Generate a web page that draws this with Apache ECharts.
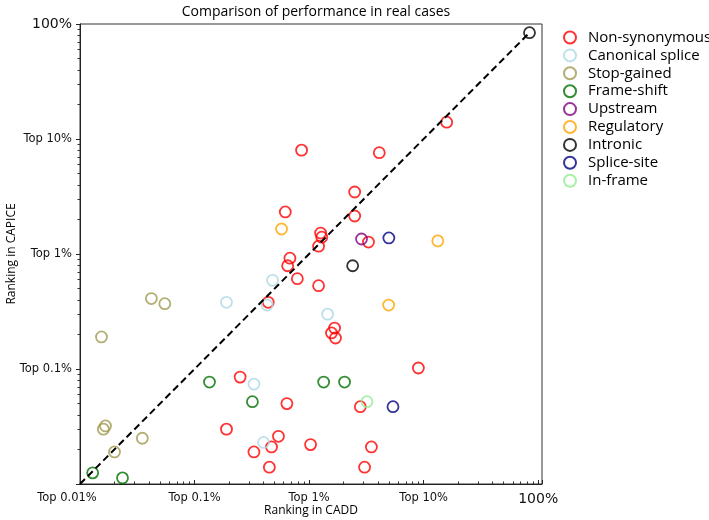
<!DOCTYPE html>
<html><head><meta charset="utf-8">
<script src="https://cdn.jsdelivr.net/npm/echarts@6/dist/echarts.min.js"></script>
<style>html,body{margin:0;padding:0;background:#fff}#c{width:709px;height:520px}</style>
</head><body><div id="c"></div>
<script>
// ---- data (percent ranks: [CADD, CAPICE]) ----
const seriesNames = ['Non-synonymous','Canonical splice','Stop-gained','Frame-shift','Upstream','Regulatory','Intronic','Splice-site','In-frame'];
const seriesColors = ['#ff0000','#add8e6','#a09a50','#007000','#800080','#ffa500','#000000','#000080','#90ee90'];
const nonSynonymous = [[15.9,14.0],[4.1,7.6],[0.86,8.0],[2.5,3.46],[2.5,2.14],[0.62,2.32],[1.26,1.52],[1.29,1.40],[1.21,1.17],[0.68,0.92],[0.65,0.79],[0.79,0.61],[1.21,0.53],[0.44,0.38],[3.3,1.27],[1.67,0.227],[1.57,0.206],[1.70,0.186],[0.25,0.085],[0.64,0.050],[2.8,0.047],[9.0,0.102],[0.19,0.030],[0.54,0.026],[0.47,0.021],[0.33,0.019],[0.45,0.014],[1.03,0.022],[3.5,0.021],[3.05,0.014]];
const canonicalSplice = [[0.19,0.38],[0.48,0.59],[0.43,0.36],[1.45,0.30],[0.33,0.074],[0.40,0.023]];
const stopGained = [[0.042,0.41],[0.055,0.37],[0.0154,0.19],[0.0167,0.032],[0.0160,0.030],[0.035,0.025],[0.020,0.019]];
const frameShift = [[0.135,0.077],[0.32,0.052],[1.34,0.077],[2.04,0.077],[0.0129,0.0125],[0.0235,0.0113]];
const upstream = [[2.87,1.35]];
const regulatory = [[0.575,1.65],[13.3,1.30],[4.95,0.36]];
const intronic = [[84,84],[2.4,0.79]];
const spliceSite = [[4.97,1.38],[5.4,0.047]];
const inFrame = [[3.2,0.052]];
const seriesData = [nonSynonymous, canonicalSplice, stopGained, frameShift, upstream, regulatory, intronic, spliceSite, inFrame];
const diagonal = [[0.01,0.01],[84,84]];
const majorTicks = [0.01,0.1,1,10,100];
const xTickLabels = ['Top 0.01%','Top 0.1%','Top 1%','Top 10%','100%'];
const yTickLabels = ['','Top 0.1%','Top 1%','Top 10%','100%'];

function minorValues(){const out=[];for(let d=-2;d<2;d++)for(let k=2;k<=9;k++)out.push(Math.log10(k*Math.pow(10,d)));return out;}
const minorsLog = minorValues();
function labelFor(v, labels){
  for(let i=0;i<majorTicks.length;i++){ if(Math.abs(Math.log10(v)-Math.log10(majorTicks[i]))<1e-6){
    const t=labels[i]; if(!t) return '';
    if(t==='100%') return '{big|100%}';
    if(t==='Top 0.01%') return '{first|Top 0.01%}';
    return t; } }
  return '';
}
const tickFont = {fontFamily:'DejaVu Sans', fontSize:11.5, color:'#111'};
const rich = {big:{fontFamily:'DejaVu Sans', fontSize:14, color:'#111'}, first:{fontFamily:'DejaVu Sans', fontSize:11.5, color:'#111', padding:[0,26,0,0]}};
const XMAX = 108, XMIN = 0.01, YMIN = 0.01, YMAX = 100;

const series = seriesNames.map((n,i)=>({
  name:n, type:'scatter', xAxisIndex:0, yAxisIndex:0, data:seriesData[i], symbol:'circle', symbolSize:11,
  itemStyle:{color:'rgba(0,0,0,0)', borderColor:seriesColors[i], borderWidth:1.8}, silent:true
}));
series.push({name:'diag', type:'line', data:diagonal, symbol:'none', xAxisIndex:0, yAxisIndex:0,
  lineStyle:{color:'#000', width:2, type:[7,4]}, silent:true, z:3});

const chart = echarts.init(document.getElementById('c'), null, {renderer:'canvas'});
chart.setOption({
  animation:false,
  title:{text:'Comparison of performance in real cases', left:311, textAlign:'center', top:0,
    textStyle:{fontFamily:'Open Sans', fontSize:14, fontWeight:'normal', color:'#000'}},
  grid:{left:80, right:167, top:24, bottom:36, show:true, borderColor:'#333', borderWidth:1, containLabel:false, outerBoundsMode:'none'},
  legend:{orient:'vertical', left:558, top:25, itemWidth:12, itemHeight:12, itemGap:2.9, icon:'circle',
    data:seriesNames.map((n,i)=>({name:n, itemStyle:{color:'rgba(0,0,0,0)', borderColor:seriesColors[i], borderWidth:2}})),
    textStyle:{fontFamily:'Open Sans', fontSize:15, lineHeight:15, color:'#000', padding:[0,0,0,7]}},
  xAxis:[
    {type:'log', logBase:10, min:XMIN, max:XMAX, position:'bottom',
     name:'Ranking in CADD', nameLocation:'middle', nameGap:21, nameMoveOverlap:false, nameTextStyle:{fontFamily:'Open Sans', fontSize:12, color:'#000'},
     axisLine:{show:true, onZero:false, lineStyle:{color:'#222', width:1}},
     axisTick:{show:true, inside:true, length:4, lineStyle:{color:'#222', width:1}},
     splitLine:{show:false},
     axisLabel:Object.assign({margin:8, formatter:v=>labelFor(v,xTickLabels), rich:rich, showMinLabel:true, showMaxLabel:true}, tickFont)},
    {type:'value', min:Math.log10(XMIN), max:Math.log10(XMAX), position:'bottom', gridIndex:0,
     axisLine:{show:false, onZero:false}, axisLabel:{show:false}, splitLine:{show:false},
     axisTick:{show:true, inside:true, length:2.5, customValues:minorsLog, lineStyle:{color:'#333', width:1}}}
  ],
  yAxis:[
    {type:'log', logBase:10, min:YMIN, max:YMAX, position:'left',
     name:'Ranking in CAPICE', nameLocation:'middle', nameGap:62, nameMoveOverlap:false, nameTextStyle:{fontFamily:'Open Sans', fontSize:12, color:'#000'},
     axisLine:{show:true, onZero:false, lineStyle:{color:'#222', width:1}},
     axisTick:{show:true, inside:false, length:4, lineStyle:{color:'#222', width:1}},
     splitLine:{show:false},
     axisLabel:Object.assign({margin:8, formatter:v=>labelFor(v,yTickLabels), rich:rich, showMinLabel:true, showMaxLabel:true}, tickFont)},
    {type:'value', min:Math.log10(YMIN), max:Math.log10(YMAX), position:'left', gridIndex:0,
     axisLine:{show:false, onZero:false}, axisLabel:{show:false}, splitLine:{show:false},
     axisTick:{show:true, inside:false, length:2.5, customValues:minorsLog, lineStyle:{color:'#333', width:1}}}
  ],
  series:series
});
</script></body></html>
